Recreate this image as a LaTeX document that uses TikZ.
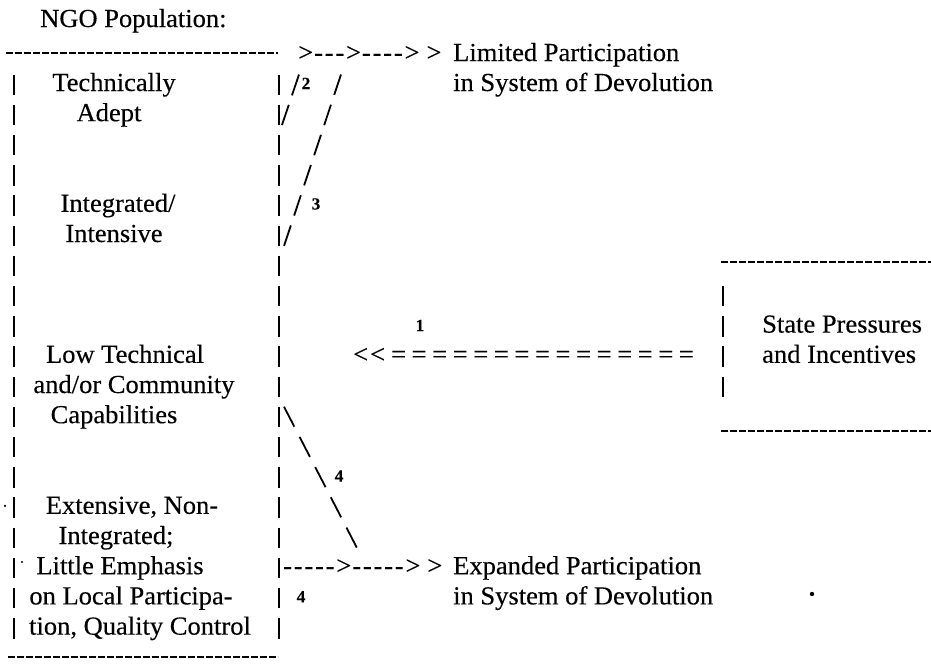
\documentclass[tikz,border=0pt]{standalone}
\usepackage{fontspec}
\setmainfont{Liberation Serif}[FakeStretch=1.02,FakeBold=0.3]
\newcommand\hy{-\kern1.8pt}
\tikzset{
  txt/.style={font=\fontsize{26}{31}\selectfont, inner sep=0pt, anchor=base},
  txtw/.style={txt, anchor=base west},
  num/.style={font=\fontsize{17}{20}\selectfont\bfseries, inner sep=0pt, anchor=base},
  hdash/.style={line width=1.6pt, dash pattern=on 6.5pt off 2.5pt},
  vbar/.style={line width=1.9pt, dash pattern=on 20.5pt off 9.7pt},
  slash/.style={line width=1.8pt}
}
\begin{document}
\begin{tikzpicture}[x=1pt,y=-1pt]
\useasboundingbox (0,0) rectangle (931,665);
% ---------- left box (NGO population)
\coordinate (bTL) at (6,53);   \coordinate (bTR) at (278,53);
\coordinate (bBL) at (8,657);  \coordinate (bBR) at (278,657);
\coordinate (lTop) at (14,74.5);  \coordinate (lBot) at (14,638.6);
\coordinate (rTop) at (279,74.5); \coordinate (rBot) at (279,638.6);
\draw[hdash] (bTL) -- (bTR);
\draw[hdash] (bBL) -- (bBR);
\draw[vbar] (lTop) -- (lBot);
\draw[vbar] (rTop) -- (rBot);
% ---------- right box (state)
\coordinate (sTL) at (721,262); \coordinate (sTR) at (931,262);
\coordinate (sBL) at (721,431); \coordinate (sBR) at (931,431);
\coordinate (sbT) at (723,285.9); \coordinate (sbB) at (723,397);
\draw[hdash] (sTL) -- (sTR);
\draw[hdash] (sBL) -- (sBR);
\draw[vbar] (sbT) -- (sbB);
% ---------- texts
\node[txtw] (ngo) at (40,27) {NGO Population:};
\node[txtw] (lim1) at (453,61) {Limited Participation};
\node[txtw] (lim2) at (453,91) {in System of Devolution};
\node[txt] (t1) at (114,91) {Technically};
\node[txt] (t2) at (109,121.2) {Adept};
\node[txt] (t3) at (118,211.8) {Integrated/};
\node[txt] (t4) at (114,242) {Intensive};
\node[txt] (t5) at (125,362.8) {Low Technical};
\node[txt] (t6) at (134,393) {and/or Community};
\node[txt] (t7) at (114,423.2) {Capabilities};
\node[txt] (t8) at (132,513.8) {Extensive, Non-};
\node[txt] (t9) at (116,544) {Integrated;};
\node[txt] (t10) at (120,574.2) {Little Emphasis};
\node[txt] (t11) at (131,604.4) {on Local Participa-};
\node[txt] (t12) at (140,634.6) {tion, Quality Control};
\node[txtw] (sp1) at (762,332.6) {State Pressures};
\node[txtw] (sp2) at (762,362.8) {and Incentives};
\node[txtw] (ex1) at (453,574.2) {Expanded Participation};
\node[txtw] (ex2) at (453,604.4) {in System of Devolution};
% ---------- arrows typed as characters
\node[txtw] (arT) at (298,61) {>\kern1pt\hy\hy\hy>\kern1pt\hy\hy\hy\hy>\kern7pt>};
\node[txtw] (arB) at (283,574.2) {\hy\hy\hy\hy\hy>\kern1pt\hy\hy\hy\hy\hy>\kern7pt>};
\node[txtw] (eq) at (353,362.8) {<\kern2pt<\kern6pt=\kern5.6pt=\kern5.6pt=\kern5.6pt=\kern5.6pt=\kern5.6pt=\kern5.6pt=\kern5.6pt=\kern5.6pt=\kern5.6pt=\kern5.6pt=\kern5.6pt=\kern5.6pt=\kern5.6pt=\kern5.6pt=};
% ---------- number labels
\node[num] (n2) at (306,89) {2};
\node[num] (n3) at (316,209.5) {3};
\node[num] (n1) at (420,331) {1};
\node[num] (n4a) at (339,481.6) {4};
\node[num] (n4b) at (301,602.4) {4};
% ---------- slash connectors
\coordinate (sa1) at (299,74.5); \coordinate (sa2) at (282,125);
\draw[slash, dash pattern=on 22pt off 10pt] (sa1) -- (sa2);
\coordinate (sb1) at (341,74.5); \coordinate (sb2) at (284,246);
\draw[slash, dash pattern=on 21.5pt off 10.3pt] (sb1) -- (sb2);
\coordinate (sc1) at (284,406.7); \coordinate (sc2) at (357,548);
\draw[slash, dash pattern=on 22.5pt off 11.5pt] (sc1) -- (sc2);
% ---------- specks of the print
\fill (5,505.8) circle (1.2pt);
\fill (22,562) circle (1.2pt);
\fill (812,594) circle (2.2pt);
\end{tikzpicture}
\end{document}
